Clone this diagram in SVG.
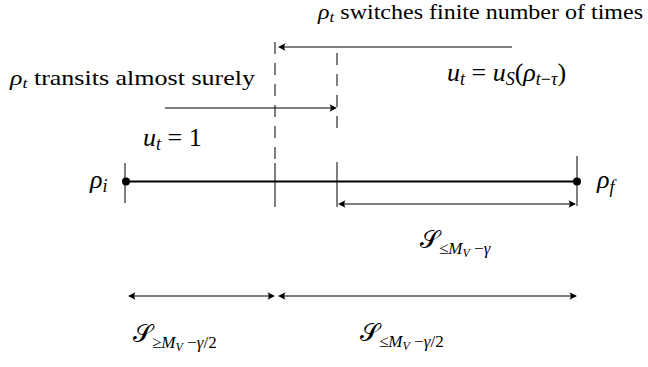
<svg xmlns="http://www.w3.org/2000/svg" width="648" height="367" viewBox="0 0 648 367">
<style>
.m{font-style:italic}
.ln{stroke:#000;stroke-width:1.2;fill:none}
.dash{stroke:#000;stroke-width:1;fill:none;stroke-dasharray:12 9}
.tk{stroke:#000;stroke-width:1;fill:none}
.ah{fill:#000;stroke:none}
</style>
<rect width="648" height="367" fill="#fff"/>
<g id="connectors">
<line class="dash" x1="275" y1="42" x2="275" y2="160"/>
<line class="dash" x1="337" y1="53" x2="337" y2="137"/>
<line class="ln" x1="512" y1="47" x2="280" y2="47"/>
<path class="ah" d="M278,47 l7.5,-3.8 q-2.5,3.8 0,7.6 z"/>
<line class="ln" x1="165" y1="108" x2="334" y2="108"/>
<path class="ah" d="M337,108 l-7.5,-3.8 q2.5,3.8 0,7.6 z"/>
<line class="ln" x1="340" y1="204" x2="574" y2="204"/>
<path class="ah" d="M338,204 l7.5,-3.8 q-2.5,3.8 0,7.6 z"/>
<path class="ah" d="M576,204 l-7.5,-3.8 q2.5,3.8 0,7.6 z"/>
<line class="ln" x1="130" y1="296" x2="273" y2="296"/>
<path class="ah" d="M128,296 l7.5,-3.8 q-2.5,3.8 0,7.6 z"/>
<path class="ah" d="M275,296 l-7.5,-3.8 q2.5,3.8 0,7.6 z"/>
<line class="ln" x1="280" y1="296" x2="575" y2="296"/>
<path class="ah" d="M278,296 l7.5,-3.8 q-2.5,3.8 0,7.6 z"/>
<path class="ah" d="M577,296 l-7.5,-3.8 q2.5,3.8 0,7.6 z"/>
</g>
<g id="segment">
<line x1="125" y1="181.5" x2="577" y2="181.5" stroke="#000" stroke-width="2"/>
<line class="tk" x1="125" y1="163" x2="125" y2="203"/>
<line class="tk" x1="577" y1="156" x2="577" y2="206"/>
<line class="tk" x1="275" y1="163" x2="275" y2="207"/>
<line class="tk" x1="337" y1="162" x2="337" y2="207"/>
<circle cx="126" cy="181.5" r="4" fill="#000"/>
<circle cx="577" cy="181.5" r="4" fill="#000"/>
</g>
<g id="label-switches">
<text x="318" y="19" font-size="21" font-family="'Liberation Serif', serif" textLength="325" lengthAdjust="spacingAndGlyphs"><tspan class="m">ρ</tspan><tspan class="m" font-size="15" dy="3">t</tspan><tspan dy="-3"> switches finite number of times</tspan></text>
</g>
<g id="label-transits">
<text x="10" y="85" font-size="22" font-family="'Liberation Serif', serif" textLength="245" lengthAdjust="spacingAndGlyphs"><tspan class="m">ρ</tspan><tspan class="m" font-size="15" dy="3">t</tspan><tspan dy="-3"> transits almost surely</tspan></text>
</g>
<g id="label-us">
<text x="447" y="81" font-size="26" font-family="'Liberation Serif', serif"><tspan class="m">u</tspan><tspan class="m" font-size="18" dy="4">t</tspan><tspan dy="-4"> = </tspan><tspan class="m">u</tspan><tspan class="m" font-size="18" dy="4">S</tspan><tspan dy="-4">(</tspan><tspan class="m">ρ</tspan><tspan class="m" font-size="18" dy="4">t</tspan><tspan font-size="18">−</tspan><tspan class="m" font-size="18">τ</tspan><tspan dy="-4">)</tspan></text>
</g>
<g id="label-u1">
<text x="143" y="146" font-size="26" font-family="'Liberation Serif', serif"><tspan class="m">u</tspan><tspan class="m" font-size="18" dy="4">t</tspan><tspan dy="-4"> = 1</tspan></text>
</g>
<g id="label-rhoi">
<text x="90" y="188" font-size="26" font-family="'Liberation Serif', serif"><tspan class="m">ρ</tspan><tspan class="m" font-size="18" dy="4">i</tspan></text>
</g>
<g id="label-rhof">
<text x="597" y="188" font-size="26" font-family="'Liberation Serif', serif"><tspan class="m">ρ</tspan><tspan class="m" font-size="18" dy="5">f</tspan></text>
</g>
<g id="label-s-gamma">
<text x="420" y="248" font-size="25" font-family="'Liberation Serif', serif"><tspan>𝒮</tspan><tspan font-size="17" dy="6">≤</tspan><tspan class="m" font-size="17">M</tspan><tspan class="m" font-size="12" dy="3">V</tspan><tspan font-size="17" dy="-3"> −</tspan><tspan class="m" font-size="17">γ</tspan></text>
</g>
<g id="label-s-ge-half">
<text x="133" y="342" font-size="25" font-family="'Liberation Serif', serif"><tspan>𝒮</tspan><tspan font-size="17" dy="6">≥</tspan><tspan class="m" font-size="17">M</tspan><tspan class="m" font-size="12" dy="3">V</tspan><tspan font-size="17" dy="-3"> −</tspan><tspan class="m" font-size="17">γ</tspan><tspan font-size="17">/2</tspan></text>
</g>
<g id="label-s-le-half">
<text x="360" y="341" font-size="25" font-family="'Liberation Serif', serif"><tspan>𝒮</tspan><tspan font-size="17" dy="6">≤</tspan><tspan class="m" font-size="17">M</tspan><tspan class="m" font-size="12" dy="3">V</tspan><tspan font-size="17" dy="-3"> −</tspan><tspan class="m" font-size="17">γ</tspan><tspan font-size="17">/2</tspan></text>
</g>
</svg>
